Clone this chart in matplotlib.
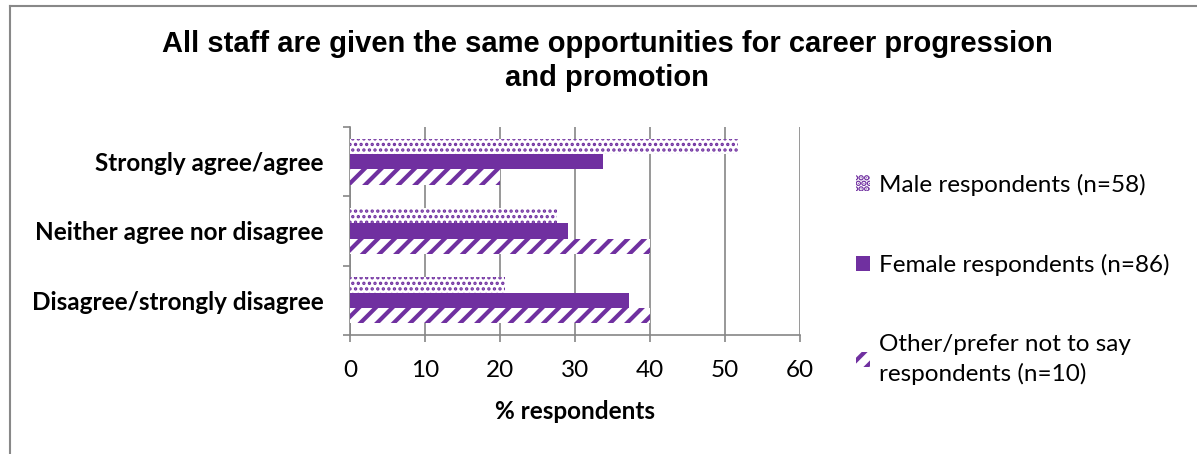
import matplotlib
matplotlib.use("Agg")
import matplotlib.pyplot as plt
from matplotlib.lines import Line2D
import numpy as np

categories = ["Strongly agree/agree", "Neither agree nor disagree", "Disagree/strongly disagree"]
series_names = ["Male respondents (n=58)", "Female respondents (n=86)",
                "Other/prefer not to say\nrespondents (n=10)"]
male = [51.7, 27.6, 20.7]
female = [33.7, 29.1, 37.2]
other = [20.0, 40.0, 40.0]
xticks = [0, 10, 20, 30, 40, 50, 60]

purple = "#7030A0"
plt.rcParams["hatch.linewidth"] = 3.0

fig = plt.figure(figsize=(11.97, 4.54), dpi=100)
ax = fig.add_axes([350/1197, 1-335/454, 450/1197, 208/454])

n = len(categories)
ypos = np.arange(n)[::-1]  # first category on top
h = 0.22
bm = ax.barh(ypos + h, male, height=h, color="white", edgecolor=purple, linewidth=0,
             hatch="...", label=series_names[0], zorder=3)
bf = ax.barh(ypos, female, height=h, color=purple, edgecolor=purple, linewidth=0,
             label=series_names[1], zorder=3)
bo = ax.barh(ypos - h, other, height=h, color="white", edgecolor=purple, linewidth=0,
             hatch="//", label=series_names[2], zorder=3)
for b in bm:
    if hasattr(b, "set_hatch_linewidth"):
        b.set_hatch_linewidth(1.6)

ax.set_xlim(0, 60)
ax.set_ylim(-0.5, n - 0.5)
ax.set_xticks(xticks)
ax.set_xticklabels([str(t) for t in xticks], fontsize=17.5, family="Lato")
ax.set_yticks(ypos)
ax.set_yticklabels(categories, fontsize=17.5, fontweight="bold", family="Lato")
ax.set_yticks(np.arange(-0.5, n, 1.0), minor=True)
ax.tick_params(axis="y", which="major", length=0, pad=19)
ax.tick_params(axis="y", which="minor", length=5, color="#868686", width=1.2, direction="out")
ax.tick_params(axis="x", length=5, color="#868686", width=1.2, direction="out", pad=13)
ax.grid(axis="x", color="#868686", linewidth=1.2, zorder=0)
for s in ["top", "right"]:
    ax.spines[s].set_visible(False)
for s in ["left", "bottom"]:
    ax.spines[s].set_color("#868686")
    ax.spines[s].set_linewidth(1.2)
ax.set_axisbelow(True)

ax.set_xlabel("% respondents", fontsize=17.5, fontweight="bold", family="Lato", labelpad=14)

fig.text(607/1197, 1-61/454, "All staff are given the same opportunities for career progression\nand promotion",
         ha="center", va="center", fontsize=21, fontweight="bold", family="Liberation Sans",
         linespacing=1.25)

leg = fig.legend(handles=[bm, bf, bo], labels=series_names, loc="center left",
                 bbox_to_anchor=(834/1197, 1-279/454), frameon=False,
                 prop={"family": "Lato", "size": 17.5}, handlelength=0.6, handleheight=0.6,
                 handletextpad=0.35, labelspacing=2.4)
for t in leg.get_texts():
    t.set_linespacing(1.4)

# chart border
fig.add_artist(Line2D([10/1197, 10/1197], [0, 1-6/454], transform=fig.transFigure,
                      color="#888888", linewidth=1.5))
fig.add_artist(Line2D([10/1197, 1], [1-6/454, 1-6/454], transform=fig.transFigure,
                      color="#888888", linewidth=1.5))

fig.savefig("out.png", dpi=100)
